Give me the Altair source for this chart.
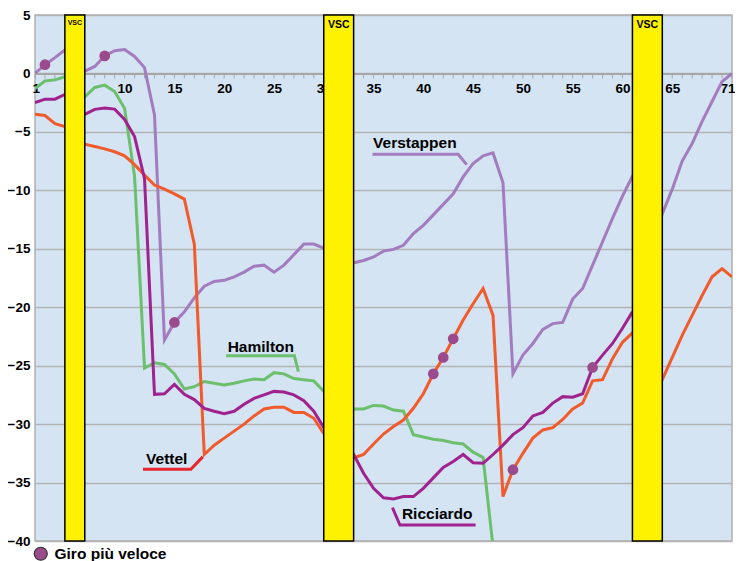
import altair as alt
import pandas as pd

FONT = "Liberation Sans, Arial, sans-serif"

laps = list(range(1, 72))
N = None

verstappen = [0.0, 0.75, 1.35, 2.0, N, 0.2, 0.6, 1.5, 1.95, 2.05,
              1.45, 0.5, -3.55, -22.8, -21.3, -20.4, -19.2, -18.2, -17.8, -17.7,
              -17.4, -17.0, -16.5, -16.4, -17.0, -16.4, -15.5, -14.6, -14.6, -14.95,
              N, N, -16.2, -16.0, -15.7, -15.2, -15.05, -14.7, -13.7, -13.0,
              -12.1, -11.2, -10.3, -8.85, -7.7, -7.05, -6.8, -9.35, -25.7, -24.1,
              -23.1, -21.9, -21.4, -21.3, -19.3, -18.4, -16.4, -14.4, -12.4, -10.5,
              -8.8, N, N, -12.0, -9.9, -7.5, -6.0, -4.1, -2.4, -0.7, 0.0]

hamilton = [-1.3, -0.65, -0.55, -0.28, N, -2.0, -1.2, -1.0, -1.55, -3.0,
            -8.8, -25.2, -24.75, -24.9, -25.7, -27.0, -26.8, -26.35, -26.5, -26.65,
            -26.5, -26.3, -26.15, -26.2, -25.6, -25.7, -26.1, -26.2, -26.3, -27.2,
            N, N, -28.7, -28.7, -28.4, -28.45, -28.8, -28.9, -30.9, -31.1,
            -31.3, -31.4, -31.6, -31.7, -32.4, -32.85, -40.5, N, N, N,
            N, N, N, N, N, N, N, N, N, N,
            N, N, N, N, N, N, N, N, N, N, N]

vettel = [-3.5, -3.6, -4.3, -4.55, N, -6.05, -6.25, -6.45, -6.7, -7.05,
          -7.8, -8.7, -9.55, -9.9, -10.3, -10.75, -14.6, -32.6, -31.8, -31.2,
          -30.6, -30.0, -29.3, -28.7, -28.55, -28.55, -29.0, -29.0, -29.5, -30.8,
          N, N, -32.9, -32.6, -31.7, -30.85, -30.2, -29.65, -28.65, -27.4,
          -25.7, -24.3, -22.7, -21.1, -19.7, -18.4, -20.7, -36.2, -33.9, -32.5,
          -31.2, -30.5, -30.3, -29.6, -28.7, -28.2, -26.3, -26.2, -24.4, -23.0,
          -22.2, N, N, -26.2, -24.3, -22.4, -20.7, -19.0, -17.4, -16.7, -17.4]

ricciardo = [-2.5, -2.2, -2.2, -1.8, N, -3.5, -3.07, -2.95, -3.05, -3.93,
             -5.4, -9.0, -27.45, -27.4, -26.6, -27.45, -27.9, -28.65, -28.9, -29.1,
             -28.9, -28.3, -27.8, -27.5, -27.2, -27.25, -27.5, -28.0, -28.9, -30.3,
             N, N, -32.6, -34.2, -35.5, -36.3, -36.4, -36.2, -36.2, -35.5,
             -34.6, -33.7, -33.2, -32.6, -33.3, -33.35, -32.6, -31.8, -30.9, -30.3,
             -29.3, -29.0, -28.2, -27.65, -27.7, -27.4, -25.15, -24.1, -23.1, -21.8,
             -20.4, N, N, N, N, N, N, N, N, N, N]

drivers = ["Verstappen", "Hamilton", "Vettel", "Ricciardo"]
series = [verstappen, hamilton, vettel, ricciardo]
colors = ["#a27cbf", "#6cbf6c", "#f15a2b", "#a0228f"]

fastest_driver = ["Verstappen", "Verstappen", "Verstappen", "Vettel", "Vettel", "Vettel", "Vettel", "Ricciardo"]
fastest_lap = [2, 8, 15, 41, 42, 43, 49, 57]
fastest_label = "Giro più veloce"

vsc_start = [4, 30, 61]
vsc_end = [6, 33, 64]
vsc_small = [True, False, False]

label_text = ["Verstappen", "Hamilton", "Vettel", "Ricciardo"]
label_lap = [34.95, 20.35, 12.15, 37.85]
label_val = [-6.35, -23.8, -33.45, -38.15]

leader_name = ["Verstappen"] * 3 + ["Hamilton"] * 3 + ["Vettel"] * 3 + ["Ricciardo"] * 3
leader_lap = [34.9, 43.5, 44.35, 20.2, 27.05, 27.45, 11.85, 16.65, 17.85, 36.9, 37.65, 45.25]
leader_val = [-6.92, -6.92, -7.8, -24.15, -24.15, -25.5, -33.87, -33.87, -32.8, -37.15, -38.63, -38.63]
leader_colors = {"Verstappen": "#a27cbf", "Hamilton": "#6cbf6c", "Vettel": "#e8242c", "Ricciardo": "#a0228f"}

x_labels = [1, 5, 10, 15, 20, 25, 30, 35, 40, 45, 50, 55, 60, 65, 71]
y_labels = list(range(-40, 6, 5))

# ---- tables ----
rows = []
for d, vals in zip(drivers, series):
    for lap, v in zip(laps, vals):
        if v is not None:
            rows.append({"driver": d, "lap": lap, "gap": v})
df = pd.DataFrame(rows)

lookup = {(r["driver"], r["lap"]): r["gap"] for r in rows}
df_fast = pd.DataFrame({
    "driver": fastest_driver,
    "lap": fastest_lap,
    "gap": [lookup[(d, l)] for d, l in zip(fastest_driver, fastest_lap)],
    "kind": [fastest_label] * len(fastest_lap),
})

df_vsc = pd.DataFrame({
    "start": vsc_start, "end": vsc_end,
    "mid": [(a + b) / 2 for a, b in zip(vsc_start, vsc_end)],
    "small": vsc_small, "txt": ["VSC"] * 3,
})

df_lab = pd.DataFrame({"txt": label_text, "lap": label_lap, "gap": label_val})
df_lead = pd.DataFrame({
    "name": leader_name, "lap": leader_lap, "gap": leader_val,
    "idx": list(range(len(leader_lap))),
    "col": [leader_colors[n] for n in leader_name],
})
df_ticks = pd.DataFrame({"lap": laps})

# ---- scales / axes ----
H = 526
W = 697
zero_px = 5 / 45 * H

xscale = alt.Scale(domain=[1, 71], nice=False, zero=False)
yscale = alt.Scale(domain=[-40, 5], nice=False, zero=False)

xaxis = alt.Axis(
    values=x_labels,
    offset=-(H - zero_px), orient="bottom",
    domainColor="#a6a6a6", domainWidth=2, ticks=False,
    labelFont=FONT, labelFontSize=13.5, labelFontWeight="bold", labelColor="#000",
    labelPadding=8, labelFlush=True, labelFlushOffset=3, labelOverlap=False,
    grid=False, title=None, zindex=0,
)
yaxis = alt.Axis(
    values=y_labels, grid=True, gridColor="#b3b3b3", gridWidth=1.5,
    ticks=False, domain=False, labelFont=FONT, labelFontSize=13.5, labelFontWeight="bold",
    labelColor="#000", labelPadding=5, title=None, zindex=0,
)

X = alt.X("lap:Q", scale=xscale, axis=xaxis)
Y = alt.Y("gap:Q", scale=yscale, axis=yaxis)

ticks = alt.Chart(df_ticks).mark_tick(
    orient="vertical", size=4, thickness=1, color="#a6a6a6", yOffset=3, opacity=1
).encode(x=X, y=alt.datum(0))

lines = alt.Chart(df).mark_line(strokeWidth=3, clip=True).encode(
    x=X, y=Y,
    stroke=alt.Stroke("driver:N", scale=alt.Scale(domain=drivers, range=colors), legend=None),
    detail="driver:N",
    order="lap:Q",
)

leaders = alt.Chart(df_lead).mark_line(strokeWidth=3).encode(
    x="lap:Q", y="gap:Q",
    color=alt.Color("col:N", scale=None),
    detail="name:N",
    order="idx:Q",
)

labels = alt.Chart(df_lab).mark_text(
    align="left", baseline="alphabetic", font=FONT, fontSize=15.5, fontWeight="bold", color="#000"
).encode(x="lap:Q", y="gap:Q", text="txt:N")

dots = alt.Chart(df_fast).mark_circle(size=115, opacity=1).encode(
    x="lap:Q", y="gap:Q",
    fill=alt.Fill("kind:N", scale=alt.Scale(domain=[fastest_label], range=["#9b4a8c"]),
                  legend=alt.Legend(
                      orient="none", legendX=-2, legendY=531, title=None,
                      labelFont=FONT, labelFontSize=15.5, labelFontWeight="bold", labelColor="#000",
                      symbolType="circle", symbolSize=170, symbolFillColor="#b062ac",
                      symbolStrokeColor="#333", symbolStrokeWidth=1.2, labelOffset=6,
                  )),
)

bands = alt.Chart(df_vsc).mark_rect(fill="#fff200", stroke="#000", strokeWidth=1.5).encode(
    x="start:Q", x2="end:Q", y=alt.datum(5), y2=alt.datum(-40)
)

band_txt_big = alt.Chart(df_vsc).transform_filter("!datum.small").mark_text(
    baseline="alphabetic", align="center", font=FONT, fontWeight="bold", fontSize=10.5, dy=13, color="#000"
).encode(x="mid:Q", y=alt.datum(5), text="txt:N")

band_txt_small = alt.Chart(df_vsc).transform_filter("datum.small").mark_text(
    baseline="alphabetic", align="center", font=FONT, fontWeight="bold", fontSize=7, dy=10, color="#000"
).encode(x="mid:Q", y=alt.datum(5), text="txt:N")

chart = alt.layer(ticks, lines, leaders, labels, dots, bands, band_txt_big, band_txt_small).properties(
    width=W, height=H,
    autosize=alt.AutoSizeParams(type="none"),
    padding={"left": 27, "top": 7, "right": 3, "bottom": 20},
).configure_view(
    fill="#d4e4f3", stroke="#b0b0b0", strokeWidth=1.5
)

chart.save("out.html", embed_options={"renderer": "svg", "actions": False})
